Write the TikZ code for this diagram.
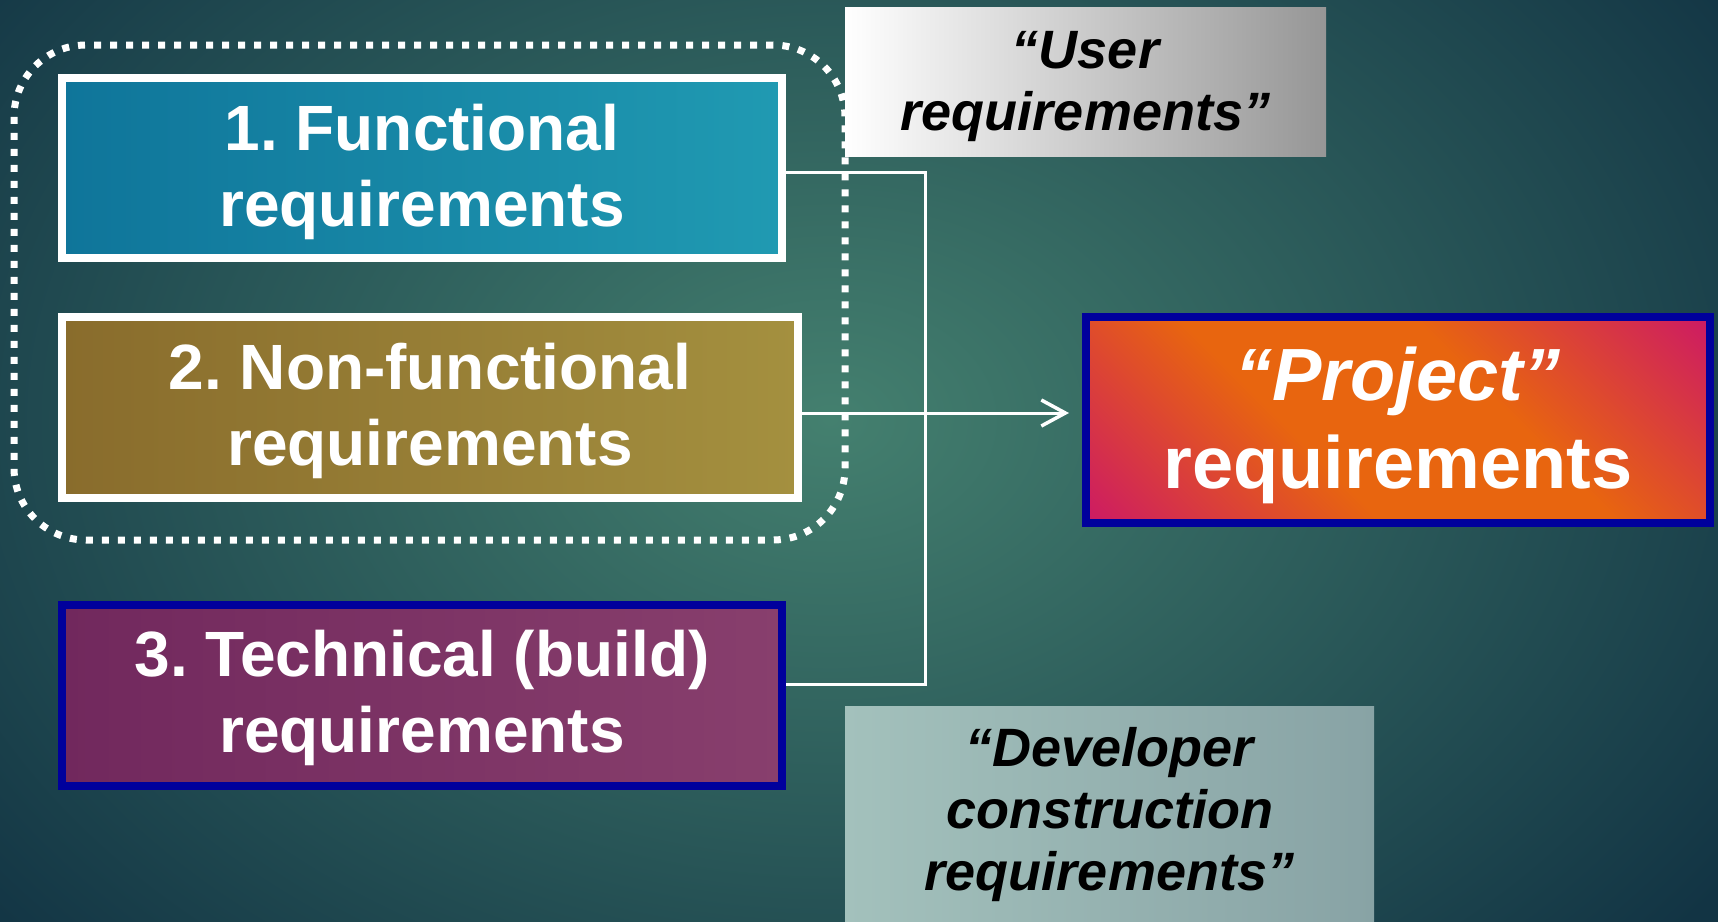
\documentclass[tikz,border=0pt]{standalone}
\usepackage{fontspec}
\setmainfont{Liberation Sans}
\usetikzlibrary{arrows.meta}
\frenchspacing

% palette
\definecolor{bgin}{HTML}{44806F}
\definecolor{bgout}{HTML}{123444}
\definecolor{funL}{HTML}{0F759A}
\definecolor{funR}{HTML}{209AB2}
\definecolor{nfL}{HTML}{896C2C}
\definecolor{nfR}{HTML}{A4903F}
\definecolor{tecL}{HTML}{71285D}
\definecolor{tecR}{HTML}{883F6D}
\definecolor{navy}{HTML}{00009C}
\definecolor{porg}{HTML}{E8650F}
\definecolor{pmag}{HTML}{CC1866}
\definecolor{usrL}{HTML}{FFFFFF}
\definecolor{usrR}{HTML}{969696}
\definecolor{devL}{HTML}{A3C1BC}
\definecolor{devR}{HTML}{88A3A5}

% diagonal orange band with magenta corners
\pgfdeclarehorizontalshading{projshade}{100bp}{%
  color(0bp)=(pmag); color(14bp)=(pmag); color(40bp)=(porg);
  color(60bp)=(porg); color(86bp)=(pmag); color(100bp)=(pmag)}

% centred lines, drawn #1 lower while keeping their natural size
\newcommand{\boxlines}[2]{\raisebox{-#1}[\height][\depth]{\begin{tabular}{@{}c@{}}#2\end{tabular}}}

\tikzset{
  reqbox/.style={rectangle, line width=8pt, inner sep=0pt,
    text=white, font=\fontsize{64}{76}\selectfont\bfseries},
  labelbox/.style={rectangle, inner sep=0pt, text=black,
    font=\fontsize{54}{62}\selectfont\bfseries\itshape},
  conn/.style={draw=white, line width=3pt},
  groupline/.style={draw=white, line width=7pt, dash pattern=on 7pt off 9pt,
    rounded corners=72pt}
}

\begin{document}
\begin{tikzpicture}[x=1pt,y=-1pt]
\useasboundingbox (0,0) rectangle (1718,921);

% background
\begin{scope}
  \clip (0,0) rectangle (1718,921);
  \shade[inner color=bgin, outer color=bgout] (-270,-380) rectangle (1930,1220);
\end{scope}

% dotted grouping of the user-facing requirements
\node[groupline, minimum width=831pt, minimum height=495pt] (grp) at (429.5,292.5) {};

% requirement boxes
\node[reqbox, draw=white, left color=funL, right color=funR,
      minimum width=720pt, minimum height=180pt] (fun) at (422,168)
      {\boxlines{5pt}{1. Functional\\requirements}};
\node[reqbox, draw=white, left color=nfL, right color=nfR,
      minimum width=736pt, minimum height=181pt] (nfun) at (430,407.5)
      {\boxlines{5pt}{2. Non-functional\\requirements}};
\node[reqbox, draw=navy, left color=tecL, right color=tecR,
      minimum width=720pt, minimum height=181pt] (tech) at (422,695.5)
      {\boxlines{4pt}{3. Technical (build)\\requirements}};

\node[reqbox, draw=navy, shading=projshade, shading angle=45,
      font=\fontsize{74}{88}\selectfont\bfseries,
      minimum width=624pt, minimum height=206pt] (proj) at (1398,420)
      {\boxlines{7pt}{{\itshape “Project”}\\requirements}};

% captions
\node[labelbox, left color=usrL, right color=usrR,
      minimum width=481pt, minimum height=149pt] (user) at (1085.5,81.5)
      {\boxlines{6pt}{“User\\requirements”}};
\node[labelbox, left color=devL, right color=devR,
      minimum width=529pt, minimum height=215pt] (dev) at (1109.5,813.5)
      {\boxlines{3pt}{“Developer\\construction\\requirements”}};

% connectors
\coordinate (jt) at (925.5,172.5);
\coordinate (jm) at (925.5,413);
\coordinate (jb) at (925.5,684);
\draw[conn] (fun.east |- jt) -- (jt) -- (jb) -- (tech.east |- jb);
\draw[conn, shorten >=13pt, -{Straight Barb[length=24pt,width=26pt,line width=3.5pt]}]
  (nfun.east |- jm) -- (proj.west |- jm);
\end{tikzpicture}
\end{document}
